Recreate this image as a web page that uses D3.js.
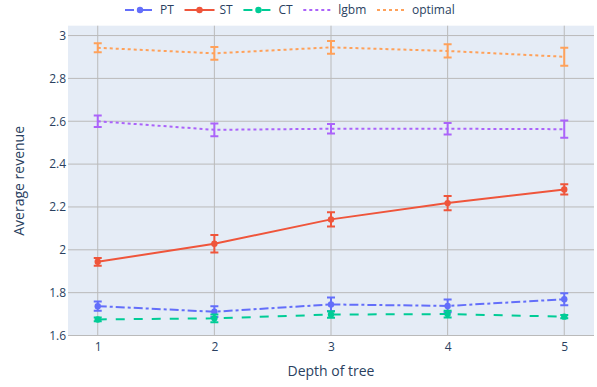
<!DOCTYPE html>
<html>
<head>
<meta charset="utf-8">
<script src="https://cdn.jsdelivr.net/npm/d3@7"></script>
<style>
  html, body { margin: 0; padding: 0; background: #fff; }
  svg { display: block; font-family: "Open Sans", "Noto Sans", sans-serif; }
</style>
</head>
<body>
<svg id="chart" width="597" height="387"></svg>
<script>
// ---- data ----
const depths = [1, 2, 3, 4, 5];
const seriesNames = ["PT", "ST", "CT", "lgbm", "optimal"];
const ptMean = [1.737, 1.711, 1.745, 1.738, 1.769];
const ptErr  = [0.022, 0.025, 0.032, 0.030, 0.028];
const stMean = [1.944, 2.028, 2.142, 2.218, 2.282];
const stErr  = [0.018, 0.041, 0.033, 0.033, 0.024];
const ctMean = [1.675, 1.680, 1.698, 1.700, 1.688];
const ctErr  = [0.009, 0.018, 0.015, 0.016, 0.008];
const lgbmMean = [2.600, 2.560, 2.565, 2.565, 2.563];
const lgbmErr  = [0.027, 0.030, 0.022, 0.027, 0.040];
const optMean = [2.943, 2.917, 2.945, 2.928, 2.901];
const optErr  = [0.021, 0.030, 0.030, 0.031, 0.042];
const yTicks = [1.6, 1.8, 2.0, 2.2, 2.4, 2.6, 2.8, 3.0];
const yTickLabels = ["1.6", "1.8", "2", "2.2", "2.4", "2.6", "2.8", "3"];
const xTickLabels = ["1", "2", "3", "4", "5"];
const xTitle = "Depth of tree";
const yTitle = "Average revenue";

const series = [
  { name: seriesNames[0], mean: ptMean, err: ptErr, color: "#636efa", dash: "9,3,3,3", markers: true },
  { name: seriesNames[1], mean: stMean, err: stErr, color: "#EF553B", dash: null, markers: true },
  { name: seriesNames[2], mean: ctMean, err: ctErr, color: "#00cc96", dash: "9,9", markers: true },
  { name: seriesNames[3], mean: lgbmMean, err: lgbmErr, color: "#ab63fa", dash: "3,3", markers: false },
  { name: seriesNames[4], mean: optMean, err: optErr, color: "#FFA15A", dash: "3,3", markers: false }
];

// ---- layout ----
const svg = d3.select("#chart");
const plot = { left: 68, right: 594, top: 25.7, bottom: 336 };
const x = d3.scaleLinear().domain([0.745, 5.255]).range([plot.left, plot.right]);
const y = d3.scaleLinear().domain([1.5977, 3.046]).range([plot.bottom, plot.top]);
const textColor = "#2a3f5f";
const gridColor = "#bababa";

svg.append("rect")
  .attr("x", plot.left).attr("y", plot.top)
  .attr("width", plot.right - plot.left).attr("height", plot.bottom - plot.top)
  .attr("fill", "#E5ECF6");

// grid
const g = svg.append("g");
g.selectAll("line.xg").data(depths).enter().append("line")
  .attr("x1", d => x(d)).attr("x2", d => x(d))
  .attr("y1", plot.top).attr("y2", plot.bottom)
  .attr("stroke", gridColor).attr("stroke-width", 1);
g.selectAll("line.yg").data(yTicks).enter().append("line")
  .attr("x1", plot.left).attr("x2", plot.right)
  .attr("y1", d => y(d)).attr("y2", d => y(d))
  .attr("stroke", gridColor).attr("stroke-width", 1);

// axes (labels only)
const xAxis = d3.axisBottom(x).tickValues(depths).tickFormat((d, i) => xTickLabels[i]).tickSize(0).tickPadding(6);
const xg = svg.append("g").attr("transform", `translate(0,${plot.bottom})`).call(xAxis);
xg.select(".domain").remove();
xg.selectAll("text").attr("fill", textColor).style("font-size", "12px").style("font-family", "'Open Sans', sans-serif");

const yAxis = d3.axisLeft(y).tickValues(yTicks).tickFormat((d, i) => yTickLabels[i]).tickSize(0).tickPadding(2);
const yg = svg.append("g").attr("transform", `translate(${plot.left},0)`).call(yAxis);
yg.select(".domain").remove();
yg.selectAll("text").attr("fill", textColor).style("font-size", "12px").style("font-family", "'Open Sans', sans-serif");

// titles
svg.append("text").attr("x", (plot.left + plot.right) / 2).attr("y", 376)
  .attr("text-anchor", "middle").attr("fill", textColor).style("font-size", "14px").text(xTitle);
svg.append("text").attr("transform", `translate(24,${(plot.top + plot.bottom) / 2}) rotate(-90)`)
  .attr("text-anchor", "middle").attr("fill", textColor).style("font-size", "14px").text(yTitle);

// traces
const clip = svg.append("defs").append("clipPath").attr("id", "clip");
clip.append("rect").attr("x", plot.left).attr("y", plot.top)
  .attr("width", plot.right - plot.left).attr("height", plot.bottom - plot.top);
const layer = svg.append("g").attr("clip-path", "url(#clip)");
const line = d3.line().x(d => x(d.x)).y(d => y(d.y));

series.forEach(s => {
  const pts = depths.map((d, i) => ({ x: d, y: s.mean[i], e: s.err[i] }));
  const tg = layer.append("g");
  tg.append("path").datum(pts).attr("d", line)
    .attr("fill", "none").attr("stroke", s.color).attr("stroke-width", 2)
    .attr("stroke-dasharray", s.dash);
  const eb = tg.append("g");
  pts.forEach(p => {
    const x0 = x(p.x), yl = y(p.y - p.e), yh = y(p.y + p.e);
    eb.append("path")
      .attr("d", `M${x0},${yh}V${yl}M${x0 - 4},${yh}H${x0 + 4}M${x0 - 4},${yl}H${x0 + 4}`)
      .attr("stroke", s.color).attr("stroke-width", 2).attr("fill", "none");
  });
  if (s.markers) {
    tg.selectAll("circle").data(pts).enter().append("circle")
      .attr("cx", d => x(d.x)).attr("cy", d => y(d.y)).attr("r", 3.2)
      .attr("fill", s.color);
  }
});

// legend
const leg = svg.append("g").attr("transform", "translate(120,10)");
let cx = 0;
series.forEach(s => {
  const it = leg.append("g").attr("transform", `translate(${cx},0)`);
  it.append("line").attr("x1", 5).attr("x2", 35).attr("y1", 0).attr("y2", 0)
    .attr("stroke", s.color).attr("stroke-width", 2).attr("stroke-dasharray", s.dash);
  if (s.markers) it.append("circle").attr("cx", 20).attr("cy", 0).attr("r", 3.2).attr("fill", s.color);
  const t = it.append("text").attr("x", 40).attr("y", 0).attr("dy", "0.35em")
    .attr("fill", textColor).style("font-size", "12px").text(s.name);
  cx += 40 + t.node().getComputedTextLength() + 5.7;
});
</script>
</body>
</html>
